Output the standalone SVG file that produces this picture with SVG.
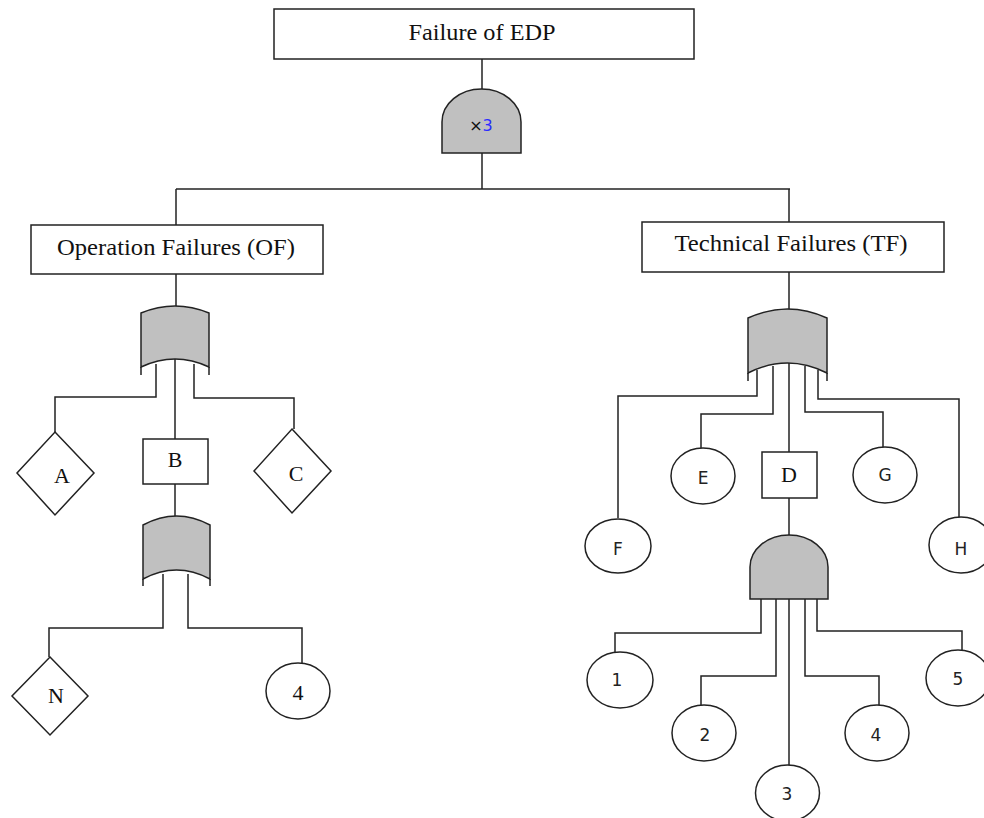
<svg xmlns="http://www.w3.org/2000/svg" width="984" height="818" viewBox="0 0 984 818">
<style>
.box{fill:#fff;stroke:#222;stroke-width:1.5}
.gate{fill:#c0c0c0;stroke:#222;stroke-width:1.5}
.ev{fill:#fff;stroke:#222;stroke-width:1.5}
.ln{fill:none;stroke:#222;stroke-width:1.5}
.ser{font-family:"Liberation Serif","Times New Roman",serif;fill:#111;text-anchor:middle}
.san{font-family:"DejaVu Sans",Verdana,sans-serif;font-size:17px;fill:#222;text-anchor:middle}
</style>
<rect width="984" height="818" fill="#fff"/>
<g id="connectors">
<path class="ln" d="M482,59 V89"/>
<path class="ln" d="M482,153 V189"/>
<path class="ln" d="M176,189 H790"/>
<path class="ln" d="M176,189 V225"/>
<path class="ln" d="M789,189 V222"/>
<path class="ln" d="M176,274 V306"/>
<path class="ln" d="M156,364 V397 H55 V432"/>
<path class="ln" d="M175,359 V439"/>
<path class="ln" d="M194,364 V398 H294 V429"/>
<path class="ln" d="M175,484 V516"/>
<path class="ln" d="M163,574 V628 H49 V657"/>
<path class="ln" d="M188,574 V628 H302 V663"/>
<path class="ln" d="M789,272 V309"/>
<path class="ln" d="M757,370 V396 H618 V518"/>
<path class="ln" d="M773,366 V414 H701 V448"/>
<path class="ln" d="M789,363 V452"/>
<path class="ln" d="M805,366 V412 H883 V447"/>
<path class="ln" d="M818,370 V399 H959 V518"/>
<path class="ln" d="M789,498 V535"/>
<path class="ln" d="M761,599 V633 H615 V652"/>
<path class="ln" d="M776,599 V676 H701 V705"/>
<path class="ln" d="M789,599 V766"/>
<path class="ln" d="M805,599 V676 H879 V705"/>
<path class="ln" d="M817,599 V631 H962 V650"/>
</g>
<g id="top">
<rect class="box" x="274" y="9" width="420" height="50"/>
<text class="ser" x="482" y="40" font-size="23" textLength="147" lengthAdjust="spacingAndGlyphs">Failure of EDP</text>
</g>
<g id="gate-top">
<path class="gate" d="M442,153 V122 A39.5,33 0 0 1 521,122 V153 Z"/>
<text x="481" y="131" font-family="DejaVu Sans,sans-serif" font-size="16" text-anchor="middle" fill="#111">×<tspan fill="#2b2bff">3</tspan></text>
</g>
<g id="of">
<rect class="box" x="31" y="225" width="292" height="49"/>
<text class="ser" x="176" y="255" font-size="23" textLength="238" lengthAdjust="spacingAndGlyphs">Operation Failures (OF)</text>
</g>
<g id="tf">
<rect class="box" x="642" y="222" width="302" height="50"/>
<text class="ser" x="791" y="251" font-size="23" textLength="233" lengthAdjust="spacingAndGlyphs">Technical Failures (TF)</text>
</g>
<g id="or-of">
<path class="gate" d="M141,367 V313 Q175,299 209,313 V367 Q175,351 141,367 Z"/>
<path class="ln" d="M141,367 V375 M209,367 V375"/>
</g>
<g id="or-b">
<path class="gate" d="M143,579 V525 Q176.5,507 210,525 V579 Q176.5,561 143,579 Z"/>
<path class="ln" d="M143,579 V586 M210,579 V586"/>
</g>
<g id="or-tf">
<path class="gate" d="M748,373 V318 Q787.5,300 827,318 V373 Q787.5,353 748,373 Z"/>
<path class="ln" d="M748,373 V381 M827,373 V381"/>
</g>
<g id="and-d">
<path class="gate" d="M750,599 V567 A39,32 0 0 1 828,567 V599 Z"/>
</g>
<g id="A">
<path class="ev" d="M55,432 L94,473 L55,515 L17,473 Z"/>
<text class="ser" x="62" y="483" font-size="22">A</text>
</g>
<g id="B">
<rect class="box" x="143" y="439" width="65" height="45"/>
<text class="ser" x="175" y="467" font-size="22">B</text>
</g>
<g id="C">
<path class="ev" d="M292,429 L331,471 L292,513 L254,471 Z"/>
<text class="ser" x="296" y="481" font-size="22">C</text>
</g>
<g id="N">
<path class="ev" d="M50,657 L88,696 L50,735 L12,696 Z"/>
<text class="ser" x="56" y="703" font-size="22">N</text>
</g>
<g id="L4">
<ellipse class="ev" cx="298" cy="691" rx="32" ry="28"/>
<text class="ser" x="298" y="700" font-size="22">4</text>
</g>
<g id="D">
<rect class="box" x="762" y="452" width="55" height="46"/>
<text class="ser" x="789" y="482" font-size="22">D</text>
</g>
<g id="E">
<ellipse class="ev" cx="703" cy="476" rx="32" ry="28"/>
<text class="san" x="703" y="484">E</text>
</g>
<g id="G">
<ellipse class="ev" cx="885" cy="475" rx="32" ry="28"/>
<text class="san" x="885" y="481">G</text>
</g>
<g id="F">
<ellipse class="ev" cx="618" cy="546" rx="33" ry="27"/>
<text class="san" x="618" y="555">F</text>
</g>
<g id="H">
<ellipse class="ev" cx="961" cy="545" rx="32" ry="28"/>
<text class="san" x="961" y="555">H</text>
</g>
<g id="n1">
<ellipse class="ev" cx="620" cy="680" rx="33" ry="28"/>
<text class="san" x="617" y="686">1</text>
</g>
<g id="n2">
<ellipse class="ev" cx="704" cy="733" rx="32" ry="28"/>
<text class="san" x="705" y="741">2</text>
</g>
<g id="n3">
<ellipse class="ev" cx="787.5" cy="793" rx="32" ry="28"/>
<text class="san" x="787" y="800">3</text>
</g>
<g id="n4">
<ellipse class="ev" cx="877" cy="733" rx="32" ry="28"/>
<text class="san" x="876" y="741">4</text>
</g>
<g id="n5">
<ellipse class="ev" cx="958" cy="678" rx="32" ry="28"/>
<text class="san" x="958" y="685">5</text>
</g>
</svg>
